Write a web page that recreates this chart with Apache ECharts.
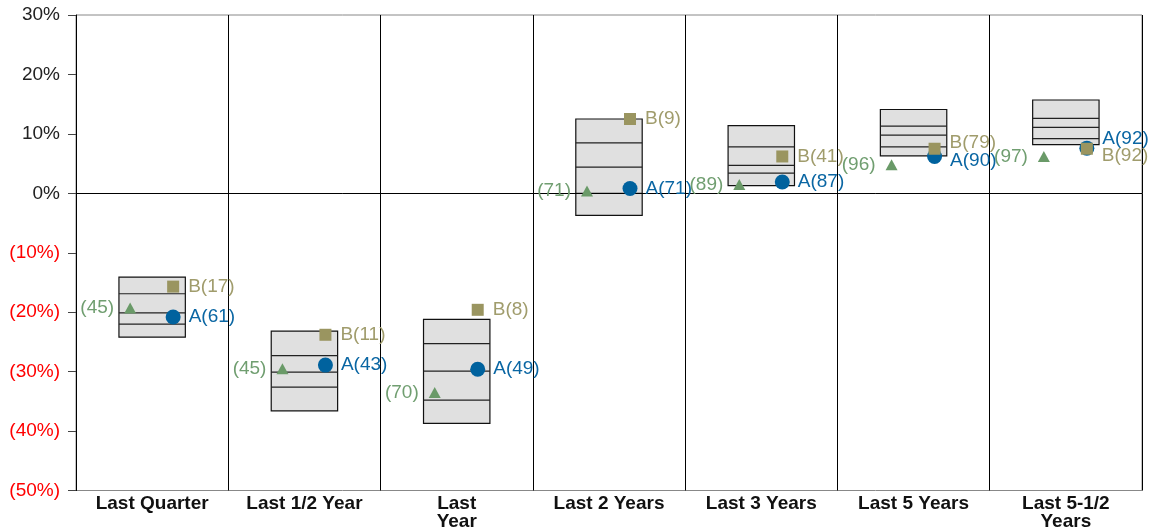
<!DOCTYPE html>
<html>
<head>
<meta charset="utf-8">
<script src="https://cdn.jsdelivr.net/npm/echarts@6/dist/echarts.min.js"></script>
<style>
html,body{margin:0;padding:0;background:#fff;}
#chart{width:1155px;height:531px;}
</style>
</head>
<body>
<div id="chart"></div>
<script>
// ---- Data ----
const categories = ['Last Quarter', 'Last 1/2 Year', 'Last\nYear', 'Last 2 Years', 'Last 3 Years', 'Last 5 Years', 'Last 5-1/2\nYears'];
const yTicks = [-50, -40, -30, -20, -10, 0, 10, 20, 30];
// range boxes: 5th, 25th, median, 75th, 95th percentile
const boxP5  = [-14.1, -23.2, -21.2, 12.5, 11.4, 14.1, 15.7];
const boxP25 = [-16.9, -27.3, -25.3,  8.5,  7.8, 11.3, 12.6];
const boxP50 = [-20.1, -30.1, -29.9,  4.4,  4.7,  9.8, 11.1];
const boxP75 = [-22.0, -32.6, -34.8,  0.0,  3.4,  7.8,  9.2];
const boxP95 = [-24.2, -36.6, -38.7, -3.7,  1.3,  6.3,  8.2];
// series A (circle)
const valuesA = [-20.8, -28.9, -29.6, 0.8, 1.9, 6.2, 7.6];
const ranksA  = [61, 43, 49, 71, 87, 90, 92];
// series B (square)
const valuesB = [-15.7, -23.8, -19.6, 12.5, 6.2, 7.5, 7.5];
const ranksB  = [17, 11, 8, 9, 41, 79, 92];
// benchmark (triangle)
const valuesC = [-19.3, -29.5, -33.5, 0.4, 1.5, 4.8, 6.2];
const ranksC  = [45, 45, 70, 71, 89, 96, 97];

// ---- Styling ----
const FONT = 'Liberation Sans, Arial, Helvetica, sans-serif';
const colA = '#00629E', colB = '#9A9560', colC = '#6A9A68';
const labA = '#0A66A3', labB = '#A09C6C', labC = '#709E70';
const labelOffsetA = {5: [0, 4], 6: [0, -9]};
const labelOffsetB = {5: [0, -6], 6: [0, 7]};

const boxData = categories.map((c, i) => [i, boxP5[i], boxP25[i], boxP50[i], boxP75[i], boxP95[i]]);

function mkScatter(name, vals, ranks, prefix, symbol, size, offset, color, lcolor, pos, dist, offs) {
  return {
    name: name, type: 'scatter', symbol: symbol, symbolSize: size, symbolOffset: offset,
    itemStyle: {color: color, opacity: 1},
    z: 5,
    data: vals.map((v, i) => {
      const d = {value: [i, v]};
      if (offs && offs[i]) d.label = {offset: offs[i]};
      return d;
    }),
    label: {
      show: true, position: pos, distance: dist, color: lcolor,
      fontFamily: FONT, fontSize: 19,
      formatter: p => prefix + '(' + ranks[p.dataIndex] + ')'
    }
  };
}

const chart = echarts.init(document.getElementById('chart'), null, {renderer: 'canvas'});
chart.setOption({
  animation: false,
  backgroundColor: '#fff',
  grid: {left: 76, right: 13, top: 15, bottom: 40, show: true, borderColor: '#888', borderWidth: 1},
  xAxis: {
    type: 'category', data: categories, boundaryGap: true,
    axisLine: {show: true, lineStyle: {color: '#777', width: 1}},
    axisTick: {show: false},
    splitLine: {show: true, interval: 0, lineStyle: {color: '#000', width: 1}},
    axisLabel: {interval: 0, margin: 4, color: '#111', fontFamily: FONT, fontWeight: 'bold', fontSize: 19, lineHeight: 18}
  },
  yAxis: {
    type: 'value', min: yTicks[0], max: yTicks[yTicks.length - 1], interval: 10,
    axisLine: {show: true, lineStyle: {color: '#000', width: 1}},
    axisTick: {show: true, length: 8, lineStyle: {color: '#444'}},
    splitLine: {show: false},
    axisLabel: {
      margin: 16, color: '#222', fontFamily: FONT, fontSize: 19,
      formatter: v => v < 0 ? '{n|(' + (-v) + '%)}' : v + '%',
      rich: {n: {color: '#FF0000', fontFamily: FONT, fontSize: 19}}
    }
  },
  series: [
    {
      type: 'custom', name: 'range', z: 2,
      data: boxData,
      encode: {x: 0, y: [1, 2, 3, 4, 5]},
      renderItem: function (params, api) {
        const i = api.value(0);
        const band = api.size([1, 0])[0];
        const w = band * 0.436;
        const top = api.coord([i, api.value(1)]);
        const bot = api.coord([i, api.value(5)]);
        const x0 = top[0] - w / 2;
        const children = [{
          type: 'rect',
          shape: {x: x0, y: top[1], width: w, height: bot[1] - top[1]},
          style: {fill: '#E0E0E0', stroke: '#111', lineWidth: 1.2}
        }];
        [2, 3, 4].forEach(k => {
          const p = api.coord([i, api.value(k)]);
          children.push({type: 'line', shape: {x1: x0, y1: p[1], x2: x0 + w, y2: p[1]}, style: {stroke: '#222', lineWidth: 1.2}});
        });
        return {type: 'group', children: children};
      },
      markLine: {
        silent: true, symbol: 'none', label: {show: false}, z: 3,
        lineStyle: {color: '#000', width: 1, type: 'solid'},
        data: [{yAxis: 0}]
      }
    },
    mkScatter('C', valuesC, ranksC, '', 'triangle', [12, 11], [-22, 0], colC, labC, 'left', 10, null),
    mkScatter('A', valuesA, ranksA, 'A', 'circle', 15, [21, 0], colA, labA, 'right', 8, labelOffsetA),
    mkScatter('B', valuesB, ranksB, 'B', 'rect', 12, [21, 0], colB, labB, 'right', 9, labelOffsetB)
  ]
});
</script>
</body>
</html>
